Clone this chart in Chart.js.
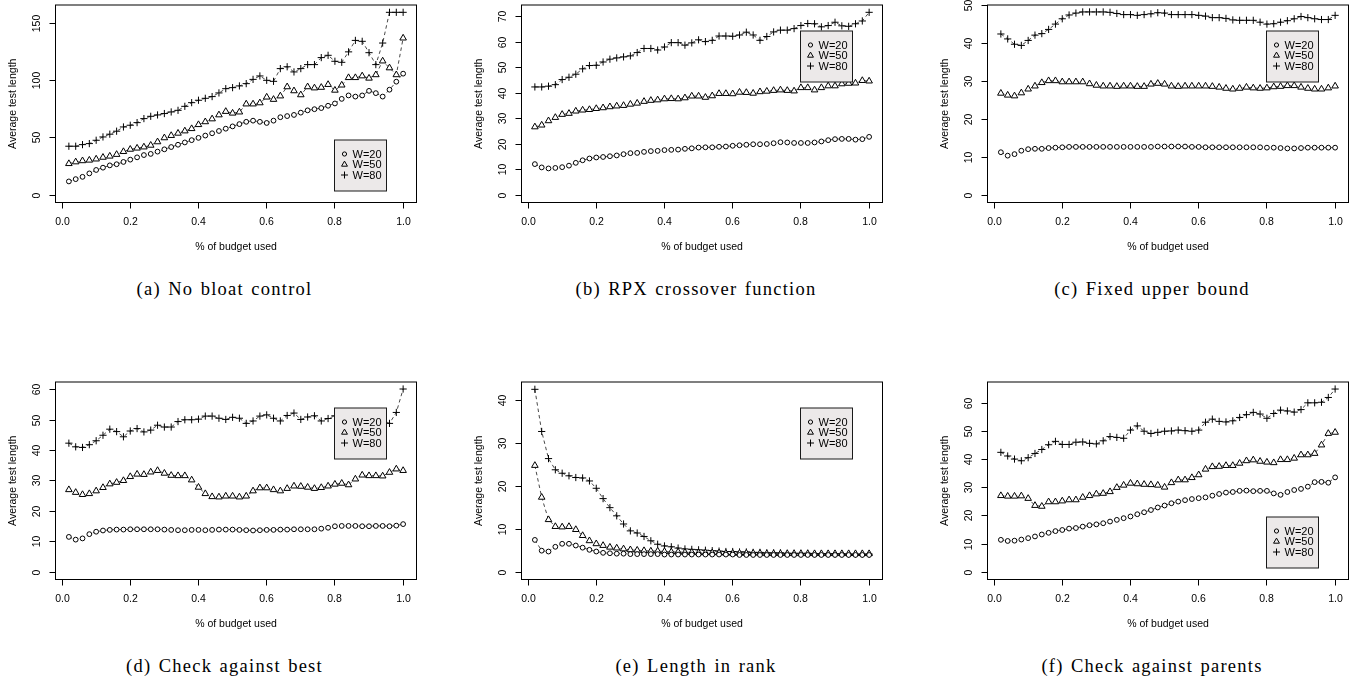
<!DOCTYPE html>
<html><head><meta charset="utf-8">
<script src="https://cdn.jsdelivr.net/npm/chart.js@4.4.1/dist/chart.umd.min.js"></script>
<style>
html,body{margin:0;padding:0;background:#fff;}
body{width:1363px;height:684px;position:relative;overflow:hidden;}
canvas{position:absolute;}
.cap{position:absolute;font-family:"Liberation Serif","Times New Roman",serif;font-size:18.5px;line-height:20px;letter-spacing:1.25px;word-spacing:1.5px;color:#000;white-space:nowrap;transform:translateX(-50%);}
</style></head><body>
<script>
// ---------- data ----------
const budget = [0.02,0.04,0.06,0.08,0.10,0.12,0.14,0.16,0.18,0.20,0.22,0.24,0.26,0.28,0.30,0.32,0.34,0.36,0.38,0.40,0.42,0.44,0.46,0.48,0.50,0.52,0.54,0.56,0.58,0.60,0.62,0.64,0.66,0.68,0.70,0.72,0.74,0.76,0.78,0.80,0.82,0.84,0.86,0.88,0.90,0.92,0.94,0.96,0.98,1.00];
const seriesLabels = ["W=20","W=50","W=80"];
const xTickValues = [0.0,0.2,0.4,0.6,0.8,1.0];
const xTitle = "% of budget used";
const yTitle = "Average test length";

// (a) No bloat control
const aW20 = [12,14,16,19,22,24,26,27,29,31,33,35,36,38,40,42,44,46,48,50,52,54,56,58,60,62,64,65,64,63,65,68,69,70,72,74,75,76,78,80,84,87,86,87,91,89,86,92,99,106];
const aW50 = [27.5,29,30,30.5,31.5,33,34,35.5,38,40,41,42,43.5,46.5,50,52,54,56,58,61.5,64,66.5,70,73,71.5,72.5,79.5,79.5,80.5,85.5,83.5,86.5,94.5,91,87.5,94.5,93.5,94,96.5,91.5,96,102.5,102.5,104,102,105,117,111,105,137];
const aW80 = [42.7,42.7,44.1,45,47.9,50.8,53.2,55.8,59.5,61,63.3,66.8,68.8,70,71.2,72.6,74,77.5,80.7,82.8,84.5,86,89.2,92.9,93.8,95.3,97.3,101,104,100.2,99.3,110.4,112,107.5,110.4,113.9,113.9,120,122,116.8,115.9,125,135,134.2,124.3,113.9,132.7,159.5,159.5,159.5];
// (b) RPX crossover function
const bW20 = [12.2,10.9,10.5,10.7,11.0,11.6,12.7,13.7,14.4,14.8,15.0,15.3,15.6,16.1,16.5,16.6,17.0,17.3,17.4,17.7,17.8,17.9,18.2,18.4,18.7,18.8,18.8,19.0,19.1,19.4,19.6,19.8,20.0,20.0,20.1,20.4,20.8,20.7,20.5,20.5,20.5,20.7,21.1,21.6,22.0,22.1,22.1,21.8,22.0,22.9];
const bW50 = [26.8,27.5,29.2,30.5,31.7,32.1,33.0,33.4,33.6,34.0,34.3,34.7,35.0,35.2,35.7,36.1,36.8,37.2,37.4,37.8,37.9,37.8,38.2,38.9,38.9,38.4,39.0,39.9,39.9,39.8,40.4,40.3,40.0,40.6,40.8,41.1,41.3,41.1,40.9,42.2,42.2,41.3,42.2,42.9,42.9,43.7,43.9,44.0,45.0,44.8];
const bW80 = [42.5,42.5,42.8,43.4,45.4,46.3,47.5,49.6,50.9,51.0,52.3,53.4,53.9,54.3,54.7,56.0,57.6,57.6,57.0,58.2,59.9,59.9,58.9,59.8,61.0,60.3,60.8,62.5,62.5,62.4,62.9,64.0,62.9,60.8,62.3,64.1,64.8,64.8,65.4,66.6,67.4,67.3,66.1,66.6,67.9,66.5,66.3,67.3,68.4,71.8];
// (c) Fixed upper bound
const cW20 = [11.3,10.4,10.8,11.7,12.1,12.2,12.2,12.4,12.5,12.6,12.7,12.7,12.7,12.7,12.7,12.7,12.7,12.7,12.7,12.7,12.7,12.7,12.7,12.8,12.8,12.8,12.8,12.8,12.7,12.7,12.6,12.6,12.6,12.6,12.6,12.6,12.6,12.6,12.6,12.5,12.5,12.4,12.3,12.3,12.4,12.5,12.5,12.5,12.5,12.5];
const cW50 = [26.8,26.3,26.1,26.9,27.9,28.7,29.6,30.1,30.1,29.8,29.8,29.8,29.8,29.3,28.9,28.7,28.7,28.6,28.7,28.7,28.6,28.6,29.2,29.4,29.2,28.7,28.6,28.7,28.7,28.7,28.7,28.6,28.4,28.1,27.9,28.1,28.4,28.2,28.1,28.2,28.5,28.6,28.8,28.8,28.4,28.1,27.9,27.9,28.2,28.7];
const cW80 = [42.4,41.1,39.7,39.4,40.7,42.1,42.5,43.6,45.0,46.4,47.4,47.9,48.2,48.2,48.2,48.2,48.1,47.8,47.5,47.5,47.3,47.5,47.7,48.0,47.9,47.5,47.5,47.5,47.5,47.3,47.1,46.7,46.7,46.5,46.1,46.0,46.0,46.0,45.5,45.0,45.1,45.5,45.9,46.4,47.0,46.7,46.4,46.2,46.2,47.3];
// (d) Check against best
const dW20 = [11.6,10.7,11.1,12.5,13.3,13.7,13.9,14.0,14.0,14.1,14.1,14.1,14.1,14.1,14.0,13.9,13.8,13.8,13.9,13.9,13.8,13.9,14.0,14.0,14.0,13.9,13.8,13.7,13.8,13.9,13.9,14.0,14.0,14.1,14.1,14.1,14.1,14.3,14.6,15.1,15.2,15.2,15.2,15.1,15.1,15.2,15.2,15.1,15.3,15.8];
const dW50 = [27.1,26.2,25.5,25.8,26.7,27.8,29.0,29.5,30.1,31.4,32.2,32.1,32.9,33.4,32.5,31.8,31.7,31.7,30.3,27.9,25.8,24.8,24.7,25.0,25.0,24.7,25.0,26.7,27.7,27.7,27.1,26.7,27.5,28.3,28.2,27.9,27.5,27.8,28.3,28.9,29.2,28.7,30.6,31.9,31.7,31.7,31.6,32.8,33.9,33.4];
const dW80 = [42.4,41.2,41.0,41.9,43.2,45.0,47.0,46.2,44.5,46.4,47.2,46.1,46.7,48.3,47.7,47.7,49.5,50.1,50.1,50.3,51.3,51.3,50.6,50.2,50.9,50.6,48.9,49.7,51.3,51.7,50.6,49.7,51.5,52.3,50.2,51.0,51.4,49.7,50.5,51.4,51.0,51.5,51.0,50.5,51.0,50.5,50.0,48.9,52.5,60.2];
// (e) Length in rank
const eW20 = [7.5,5.0,4.8,5.9,6.6,6.6,6.2,5.7,5.2,4.8,4.5,4.4,4.3,4.3,4.2,4.2,4.2,4.2,4.2,4.1,4.1,4.1,4.1,4.1,4.1,4.1,4.1,4.1,4.1,4.1,4.0,4.0,4.0,4.0,4.0,4.0,4.0,4.0,4.0,4.0,4.0,4.0,4.0,4.0,4.0,4.0,4.0,4.0,4.0,4.0];
const eW50 = [24.8,17.4,12.2,10.6,10.5,10.6,9.9,8.5,7.3,6.6,6.2,5.8,5.6,5.4,5.2,5.1,5.0,4.9,4.9,4.8,4.7,4.7,4.6,4.6,4.5,4.5,4.5,4.5,4.4,4.4,4.4,4.4,4.4,4.4,4.3,4.3,4.3,4.3,4.3,4.3,4.3,4.3,4.3,4.3,4.3,4.3,4.3,4.3,4.3,4.3];
const eW80 = [42.5,32.7,26.4,23.8,23.0,22.4,22.0,21.9,21.2,19.5,17.1,15.0,13.1,11.2,9.6,9.1,8.3,7.3,6.5,6.1,5.9,5.6,5.4,5.3,5.2,5.1,5.0,4.9,4.8,4.8,4.7,4.7,4.6,4.6,4.5,4.5,4.5,4.4,4.4,4.4,4.4,4.3,4.3,4.3,4.3,4.3,4.2,4.2,4.2,4.2];
// (f) Check against parents
const fW20 = [11.5,11.1,11.2,11.6,12.1,12.7,13.4,14.0,14.6,15.0,15.5,15.7,16.2,16.7,17.0,17.4,18.0,18.6,19.2,19.8,20.6,21.3,22.1,23.0,23.7,24.5,25.1,25.6,26.0,26.3,26.6,27.2,27.8,28.3,28.5,28.9,29.0,28.8,28.9,28.9,28.0,27.5,28.5,29.2,29.6,30.4,32.0,32.1,31.8,33.7];
const fW50 = [27.2,27.0,27.0,27.1,26.2,23.7,23.4,25.0,25.0,25.3,25.7,25.7,26.6,27.2,27.8,28.0,28.6,30.1,30.9,31.6,31.4,31.2,31.1,30.9,30.2,31.8,32.8,32.8,33.6,34.6,36.6,37.5,37.6,37.9,37.9,38.7,39.6,39.9,39.4,39.1,38.9,40.0,40.0,40.5,41.7,41.7,42.2,45.2,49.3,49.7];
const fW80 = [42.6,41.3,40.2,39.6,40.7,42.2,43.6,45.3,46.5,45.4,45.4,46.2,46.3,45.8,45.6,46.7,48.2,47.9,47.6,50.5,52.0,50.1,49.3,49.7,50.1,50.2,50.5,50.3,50.1,50.5,53.3,54.4,53.6,53.4,53.8,55.0,56.0,56.8,56.2,54.7,56.4,57.6,57.3,56.9,57.8,60.2,60.2,60.4,62.1,65.1];

const captions = ["(a) No bloat control","(b) RPX crossover function","(c) Fixed upper bound","(d) Check against best","(e) Length in rank","(f) Check against parents"];
const yTicksA = [0,50,100,150];
const yTicksB = [0,10,20,30,40,50,60,70];
const yTicksC = [0,10,20,30,40,50];
const yTicksD = [0,10,20,30,40,50,60];
const yTicksE = [0,10,20,30,40];
const yTicksF = [0,10,20,30,40,50,60];
const yDataMax = [159.5,71.8,48.1,60.1,42.5,65.0];

// ---------- layout ----------
const cols = [{left:0,width:454,padL:55.5,padR:37.5,cap:224.5},{left:454,width:454,padL:67.5,padR:25.5,cap:696},{left:908,width:455,padL:79.5,padR:14.5,cap:1152}];
const rows = [{top:0,capTop:279.3},{top:377,capTop:655.9}];
const CH = 270;
const panels = [
  {s:[aW20,aW50,aW80], yt:yTicksA, leg:'bottom'},
  {s:[bW20,bW50,bW80], yt:yTicksB, leg:'top'},
  {s:[cW20,cW50,cW80], yt:yTicksC, leg:'top'},
  {s:[dW20,dW50,dW80], yt:yTicksD, leg:'top'},
  {s:[eW20,eW50,eW80], yt:yTicksE, leg:'top'},
  {s:[fW20,fW50,fW80], yt:yTicksF, leg:'bottom'}
];
const styles = [
  {pointStyle:'circle', radius:2.4, legR:2.1},
  {pointStyle:'triangle', radius:3.8, legR:3.4},
  {pointStyle:'cross', radius:3.6, legR:3.5}
];
const FONT = '10.5px "Liberation Sans", Arial, Helvetica, sans-serif';
const LEGFONT = '11px "Liberation Sans", Arial, Helvetica, sans-serif';

function drawSym(ctx, style, r, x, y){
  ctx.beginPath();
  if(style==='circle'){ ctx.arc(x,y,r,0,Math.PI*2); ctx.stroke(); }
  else if(style==='triangle'){
    ctx.moveTo(x, y-r); ctx.lineTo(x+r*0.866, y+r*0.5); ctx.lineTo(x-r*0.866, y+r*0.5); ctx.closePath(); ctx.stroke();
  } else { ctx.moveTo(x-r,y); ctx.lineTo(x+r,y); ctx.moveTo(x,y-r); ctx.lineTo(x,y+r); ctx.stroke(); }
}

const rPlot = {
  id:'rPlot',
  afterDatasetsDraw(chart, args, opts){
    const {ctx, chartArea:a, scales:{x,y}} = chart;
    ctx.save();
    ctx.strokeStyle='#000'; ctx.lineWidth=1; ctx.fillStyle='#000';
    ctx.strokeRect(a.left, a.top, a.right-a.left, a.bottom-a.top);
    ctx.font = FONT; ctx.textAlign='center'; ctx.textBaseline='middle';
    // x axis ticks
    xTickValues.forEach(v=>{
      const px = Math.round(x.getPixelForValue(v)-0.5)+0.5;
      ctx.beginPath(); ctx.moveTo(px,a.bottom); ctx.lineTo(px,a.bottom+6); ctx.stroke();
      ctx.fillText(v.toFixed(1), px, a.bottom+19.5);
    });
    // y axis ticks
    opts.yt.forEach(v=>{
      const py = Math.round(y.getPixelForValue(v)-0.5)+0.5;
      ctx.beginPath(); ctx.moveTo(a.left-6,py); ctx.lineTo(a.left,py); ctx.stroke();
      ctx.save(); ctx.translate(a.left-18.5, py); ctx.rotate(-Math.PI/2); ctx.fillText(String(v),0,0); ctx.restore();
    });
    // titles
    ctx.fillText(xTitle, (a.left+a.right)/2, a.bottom+44.5);
    ctx.save(); ctx.translate(a.left-42.8, (a.top+a.bottom)/2); ctx.rotate(-Math.PI/2); ctx.fillText(yTitle,0,0); ctx.restore();
    // legend
    const lx = a.left + 279, ly = a.top + (opts.leg==='top' ? 26 : 135);
    ctx.fillStyle='#ECE9E9'; ctx.fillRect(lx,ly,52,51);
    ctx.strokeStyle='#1a1a1a'; ctx.strokeRect(lx,ly,52,51);
    ctx.strokeStyle='#000';
    chart.data.datasets.forEach((ds,k)=>{
      const cy = ly + 14 + k*10.5;
      drawSym(ctx, styles[k].pointStyle, styles[k].legR, lx+10, cy);
      ctx.fillStyle='#000'; ctx.textAlign='left'; ctx.font = LEGFONT;
      ctx.fillText(ds.label, lx+18, cy+0.5);
    });
    ctx.restore();
  }
};

panels.forEach((p, idx)=>{
  const col = cols[idx%3], row = rows[Math.floor(idx/3)];
  const cv = document.createElement('canvas');
  cv.width = col.width; cv.height = CH;
  cv.style.left = col.left+'px'; cv.style.top = row.top+'px';
  cv.style.width = col.width+'px'; cv.style.height = CH+'px';
  document.body.appendChild(cv);
  const cap = document.createElement('div');
  cap.className='cap'; cap.textContent = captions[idx];
  cap.style.left = col.cap+'px'; cap.style.top = row.capTop+'px';
  document.body.appendChild(cap);
  const ymax = yDataMax[idx];
  new Chart(cv, {
    type:'line',
    data:{ datasets: p.s.map((vals,k)=>({
      label: seriesLabels[k],
      data: budget.map((b,i)=>({x:b, y:vals[i]})),
      borderColor:'rgba(0,0,0,0.9)', borderWidth:0.8, borderDash:[3.5,3],
      pointStyle: styles[k].pointStyle, pointRadius: styles[k].radius,
      pointBorderColor:'#000', pointBackgroundColor:'#fff', pointBorderWidth:1,
      fill:false, tension:0
    }))},
    options:{
      responsive:false, animation:false, devicePixelRatio:1, events:[],
      layout:{padding:{left:col.padL, right:col.padR, top:4.5, bottom:67.5}},
      plugins:{legend:{display:false}, tooltip:{enabled:false}, rPlot:{yt:p.yt, leg:p.leg}},
      scales:{
        x:{type:'linear', display:false, min:-0.0192, max:1.0392},
        y:{type:'linear', display:false, min:-0.04*ymax, max:1.04*ymax}
      }
    },
    plugins:[rPlot]
  });
});
</script>
</body></html>
